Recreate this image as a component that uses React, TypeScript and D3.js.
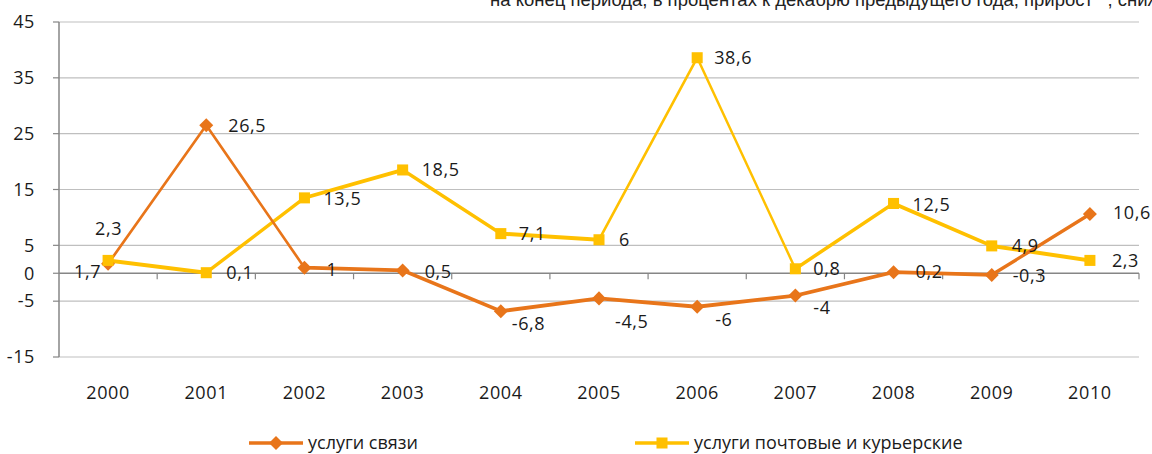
import { useEffect, useRef } from 'react';
import * as d3 from 'd3';

const years = ['2000', '2001', '2002', '2003', '2004', '2005', '2006', '2007', '2008', '2009', '2010'];
const svyaz = [1.7, 26.5, 1, 0.5, -6.8, -4.5, -6, -4, 0.2, -0.3, 10.6];
const pochta = [2.3, 0.1, 13.5, 18.5, 7.1, 6, 38.6, 0.8, 12.5, 4.9, 2.3];
const yTicks = [45, 35, 25, 15, 5, 0, -5, -15];
const legendLabels = ['услуги связи', 'услуги почтовые и курьерские'];
const title = 'на конец периода, в процентах к декабрю предыдущего года, прирост**, снижение**';

// label nudges [dx, dy] from the marker, per point
const svyazLabelPos = [[-34, 8], [22, 0], [22, 2], [22, 1], [11, 12], [16, 23], [18, 13], [18, 12], [22, 0], [21, 1], [23, -1]];
const pochtaLabelPos = [[-13, -32], [20, 0], [19, 1], [19, 0], [18, 0], [20, 0], [17, 0], [18, 0], [19, 1], [20, 0], [22, 0]];

const ORANGE = '#E8751A';
const YELLOW = '#FFC000';

export default function App() {
  const svgRef = useRef<SVGSVGElement>(null);

  useEffect(() => {
    const svg = d3.select(svgRef.current);
    svg.selectAll('*').remove();

    const width = 1152;
    const height = 454;
    const left = 59;
    const right = 1139;
    const font = "'Open Sans', sans-serif";
    const num = (sel: d3.Selection<SVGTextElement, unknown, null, undefined>) =>
      sel.style('font-family', font)
        .style('font-size', '18px')
        .style('letter-spacing', '0.6px')
        .attr('fill', '#1a1a1a');

    const x = d3.scaleBand().domain(years).range([left, right]);
    const y = d3.scaleLinear().domain([-15, 45]).range([357, 22]);
    const cx = (d: string) => (x(d) as number) + x.bandwidth() / 2;

    // title, cut off by the top and right edges as in the source
    svg.append('text')
      .attr('x', 490)
      .attr('y', 6)
      .style('font-family', "'Liberation Sans', Arial, sans-serif")
      .style('font-size', '18.5px')
      .attr('fill', '#222')
      .text(title);

    // gridlines
    yTicks.filter(t => t !== 0).forEach(t => {
      svg.append('line')
        .attr('x1', left).attr('x2', right)
        .attr('y1', y(t)).attr('y2', y(t))
        .attr('stroke', '#BFBFBF').attr('stroke-width', 1.2);
    });

    // y axis
    svg.append('line')
      .attr('x1', left).attr('x2', left)
      .attr('y1', y(45)).attr('y2', y(-15))
      .attr('stroke', '#868686').attr('stroke-width', 1.5);

    yTicks.forEach(t => {
      svg.append('line')
        .attr('x1', left - 6).attr('x2', left)
        .attr('y1', y(t)).attr('y2', y(t))
        .attr('stroke', '#868686').attr('stroke-width', 1.2);
      svg.append('text')
        .attr('x', 35)
        .attr('y', y(t))
        .attr('dy', '0.35em')
        .attr('text-anchor', 'end')
        .call(num)
        .text(t);
    });

    // zero line with category ticks
    svg.append('line')
      .attr('x1', left).attr('x2', right)
      .attr('y1', y(0)).attr('y2', y(0))
      .attr('stroke', '#868686').attr('stroke-width', 1.5);

    years.forEach(yr => {
      const bx = (x(yr) as number) + x.bandwidth();
      svg.append('line')
        .attr('x1', bx).attr('x2', bx)
        .attr('y1', y(0)).attr('y2', y(0) + 6)
        .attr('stroke', '#868686').attr('stroke-width', 1.2);
      svg.append('text')
        .attr('x', cx(yr))
        .attr('y', 399)
        .attr('text-anchor', 'middle')
        .call(num)
        .text(yr);
    });

    // lines drawn in a vertically stretched group so flat segments look heavier
    const squash = svg.append('g').attr('transform', 'scale(1,2)');
    const line = d3.line<number>()
      .x((_, i) => cx(years[i]))
      .y(d => y(d) / 2);

    squash.append('path')
      .datum(pochta)
      .attr('d', line)
      .attr('fill', 'none')
      .attr('stroke', YELLOW)
      .attr('stroke-width', 2)
      .attr('stroke-linejoin', 'round');

    squash.append('path')
      .datum(svyaz)
      .attr('d', line)
      .attr('fill', 'none')
      .attr('stroke', ORANGE)
      .attr('stroke-width', 1.9)
      .attr('stroke-linejoin', 'round');

    const diamond = d3.symbol().type(d3.symbolDiamond2).size(125);
    const square = d3.symbol().type(d3.symbolSquare2).size(155);

    svyaz.forEach((v, i) => {
      svg.append('path')
        .attr('d', diamond())
        .attr('transform', `translate(${cx(years[i])},${y(v)})`)
        .attr('fill', ORANGE);
    });
    pochta.forEach((v, i) => {
      svg.append('path')
        .attr('d', square())
        .attr('transform', `translate(${cx(years[i])},${y(v)})`)
        .attr('fill', YELLOW);
    });

    const fmt = (v: number) => String(v).replace('.', ',');
    const labels = (vals: number[], pos: number[][]) => {
      vals.forEach((v, i) => {
        svg.append('text')
          .attr('x', cx(years[i]) + pos[i][0])
          .attr('y', y(v) + pos[i][1])
          .attr('dy', '0.35em')
          .call(num)
          .text(fmt(v));
      });
    };
    labels(pochta, pochtaLabelPos);
    labels(svyaz, svyazLabelPos);

    // legend
    const legend = [
      { label: legendLabels[0], color: ORANGE, sym: diamond, x: 249 },
      { label: legendLabels[1], color: YELLOW, sym: square, x: 635 }
    ];
    legend.forEach(d => {
      svg.append('line')
        .attr('x1', d.x).attr('x2', d.x + 54)
        .attr('y1', 443).attr('y2', 443)
        .attr('stroke', d.color).attr('stroke-width', 3.5);
      svg.append('path')
        .attr('d', d.sym())
        .attr('transform', `translate(${d.x + 27},443)`)
        .attr('fill', d.color);
      svg.append('text')
        .attr('x', d.x + 59)
        .attr('y', 443)
        .attr('dy', '0.35em')
        .style('font-family', font)
        .style('font-size', '18px')
        .attr('fill', '#1a1a1a')
        .text(d.label);
    });

    svg.attr('width', width).attr('height', height);
  }, []);

  return (
    <svg
      ref={svgRef}
      width={1152}
      height={454}
      style={{ position: 'absolute', left: 0, top: 0, background: '#fff', overflow: 'hidden' }}
    />
  );
}
